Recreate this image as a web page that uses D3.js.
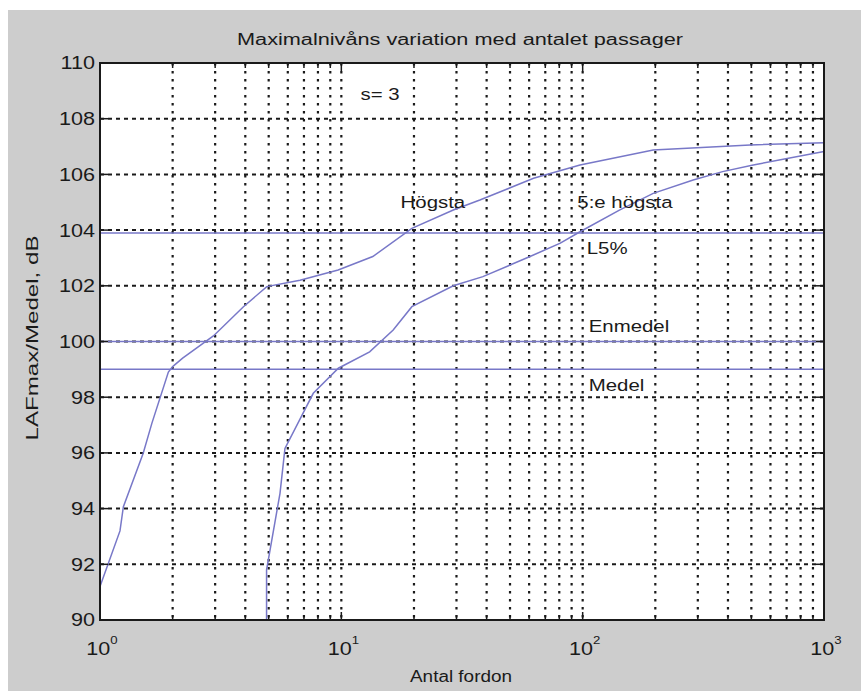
<!DOCTYPE html>
<html><head><meta charset="utf-8">
<script src="https://cdn.jsdelivr.net/npm/d3@7"></script>
<style>
body{margin:0;background:#fff}
text{font-family:"Liberation Sans",Arial,sans-serif;fill:#1a1a1a}
</style>
</head><body><svg id="c" width="861" height="691"></svg>
<script>
// ---- data ----
const chartTitle = "Maximalnivåns variation med antalet passager";
const xLabel = "Antal fordon";
const yLabel = "LAFmax/Medel, dB";
const xTickExponents = [0, 1, 2, 3];
const yTicks = [90, 92, 94, 96, 98, 100, 102, 104, 106, 108, 110];

const hogstaX = [1, 1.21, 1.25, 1.51, 1.64, 1.92, 2.0, 2.2, 2.95, 3.93, 4.91, 6.74, 9.7, 13.5, 19.6, 29.1, 37.5, 62.6, 97.5, 196, 494, 1000];
const hogstaY = [91.2, 93.2, 94.07, 95.99, 97.06, 98.9, 99.1, 99.4, 100.2, 101.25, 101.97, 102.2, 102.57, 103.05, 104.06, 104.72, 105.08, 105.86, 106.34, 106.88, 107.06, 107.14];

const femteX = [4.9, 4.9, 5.57, 5.84, 7.65, 9.72, 13.1, 16.4, 19.6, 29.1, 38.6, 60.5, 80.8, 97.5, 142, 196, 287, 380, 509, 1000];
const femteY = [90, 91.8, 94.55, 96.16, 98.14, 99.04, 99.63, 100.41, 101.25, 102.0, 102.33, 103.05, 103.53, 103.94, 104.72, 105.32, 105.8, 106.1, 106.34, 106.82];

const levelNames = ["L5%", "Enmedel", "Medel"];
const levelValues = [103.9, 100, 99];

const annotationTexts = ["s= 3", "Högsta", "5:e högsta", "L5%", "Enmedel", "Medel"];
const annotationX = [12.0, 17.6, 95, 104, 106, 106];
const annotationY = [108.9, 105.0, 105.0, 103.35, 100.55, 98.45];

// ---- drawing ----
const svg = d3.select("#c");
const W = 861, H = 691;
const m = {left: 100, top: 63, right: 824, bottom: 620};
const x = d3.scaleLog().domain([1, 1000]).range([m.left, m.right]);
const y = d3.scaleLinear().domain([90, 110]).range([m.bottom, m.top]);
const SX = 1.2; // horizontal text stretch seen in the reference

svg.append("rect").attr("x", 8).attr("y", 10).attr("width", W - 8).attr("height", H - 10).attr("fill", "#cdcdcd");
svg.append("rect").attr("x", m.left).attr("y", m.top).attr("width", m.right - m.left).attr("height", m.bottom - m.top).attr("fill", "#fff");

// grid positions
const minorX = [];
for (let e = 0; e < 3; e++) for (let k = 1; k <= 9; k++) minorX.push(k * Math.pow(10, e));
minorX.push(1000);

const grid = svg.append("g");
grid.selectAll("line.vx").data(minorX.filter(v => v > 1 && v < 1000)).join("line")
  .attr("x1", d => x(d)).attr("x2", d => x(d)).attr("y1", m.top).attr("y2", m.bottom)
  .attr("stroke", "#1a1a1a").attr("stroke-width", 2.2).attr("stroke-dasharray", "2.5,5.5");
grid.selectAll("line.hy").data(yTicks.filter(v => v > 90 && v < 110)).join("line")
  .attr("x1", m.left).attr("x2", m.right).attr("y1", d => y(d)).attr("y2", d => y(d))
  .attr("stroke", "#1a1a1a").attr("stroke-width", 2).attr("stroke-dasharray", "4,4");

// curves
const line = d3.line().x(d => x(d[0])).y(d => y(d[1]));
const blue = "#7878c8";
svg.append("path").datum(hogstaX.map((v, i) => [v, hogstaY[i]])).attr("d", line)
  .attr("fill", "none").attr("stroke", blue).attr("stroke-width", 1.5);
svg.append("path").datum(femteX.map((v, i) => [v, femteY[i]])).attr("d", line)
  .attr("fill", "none").attr("stroke", blue).attr("stroke-width", 1.5);
svg.selectAll("line.lvl").data(levelValues).join("line")
  .attr("x1", m.left).attr("x2", m.right).attr("y1", d => y(d)).attr("y2", d => y(d))
  .attr("stroke", blue).attr("stroke-width", 1.5);

// frame
svg.append("rect").attr("x", m.left).attr("y", m.top).attr("width", m.right - m.left).attr("height", m.bottom - m.top)
  .attr("fill", "none").attr("stroke", "#1a1a1a").attr("stroke-width", 2);

// ticks (inward)
const tk = svg.append("g").attr("stroke", "#1a1a1a").attr("stroke-width", 1.5);
minorX.forEach(v => {
  const major = Math.abs(Math.log10(v) - Math.round(Math.log10(v))) < 1e-9;
  const L = major ? 8 : 5;
  tk.append("line").attr("x1", x(v)).attr("x2", x(v)).attr("y1", m.bottom).attr("y2", m.bottom - L);
  tk.append("line").attr("x1", x(v)).attr("x2", x(v)).attr("y1", m.top).attr("y2", m.top + L);
});
yTicks.forEach(v => {
  tk.append("line").attr("x1", m.left).attr("x2", m.left + 8).attr("y1", y(v)).attr("y2", y(v));
  tk.append("line").attr("x1", m.right).attr("x2", m.right - 8).attr("y1", y(v)).attr("y2", y(v));
});

const place = (px, py) => `translate(${px},${py}) scale(${SX},1)`;

// y tick labels
svg.selectAll("text.yl").data(yTicks).join("text")
  .attr("transform", d => place(m.left - 5, y(d))).attr("dy", "0.36em")
  .attr("text-anchor", "end").attr("font-size", 18).text(d => d);

// x tick labels 10^n
xTickExponents.forEach(e => {
  const t = svg.append("text").attr("transform", place(x(Math.pow(10, e)) + 2, 655))
    .attr("text-anchor", "middle").attr("font-size", 18);
  t.append("tspan").text("10");
  t.append("tspan").attr("font-size", 11).attr("dy", -11).text(e);
});

// title & axis labels
svg.append("text").attr("x", 460).attr("y", 45).attr("text-anchor", "middle").attr("font-size", 16)
  .attr("textLength", 446).attr("lengthAdjust", "spacingAndGlyphs").text(chartTitle);
svg.append("text").attr("x", 461).attr("y", 682).attr("text-anchor", "middle").attr("font-size", 16)
  .attr("textLength", 102).attr("lengthAdjust", "spacingAndGlyphs").text(xLabel);
svg.append("text").attr("transform", "translate(38,338) rotate(-90)").attr("text-anchor", "middle").attr("font-size", 16)
  .attr("textLength", 205).attr("lengthAdjust", "spacingAndGlyphs").text(yLabel);

// annotations
svg.selectAll("text.ann").data(annotationTexts).join("text")
  .attr("transform", (d, i) => place(x(annotationX[i]), y(annotationY[i]))).attr("dy", "0.36em")
  .attr("font-size", 17).text(d => d);
</script></body></html>
